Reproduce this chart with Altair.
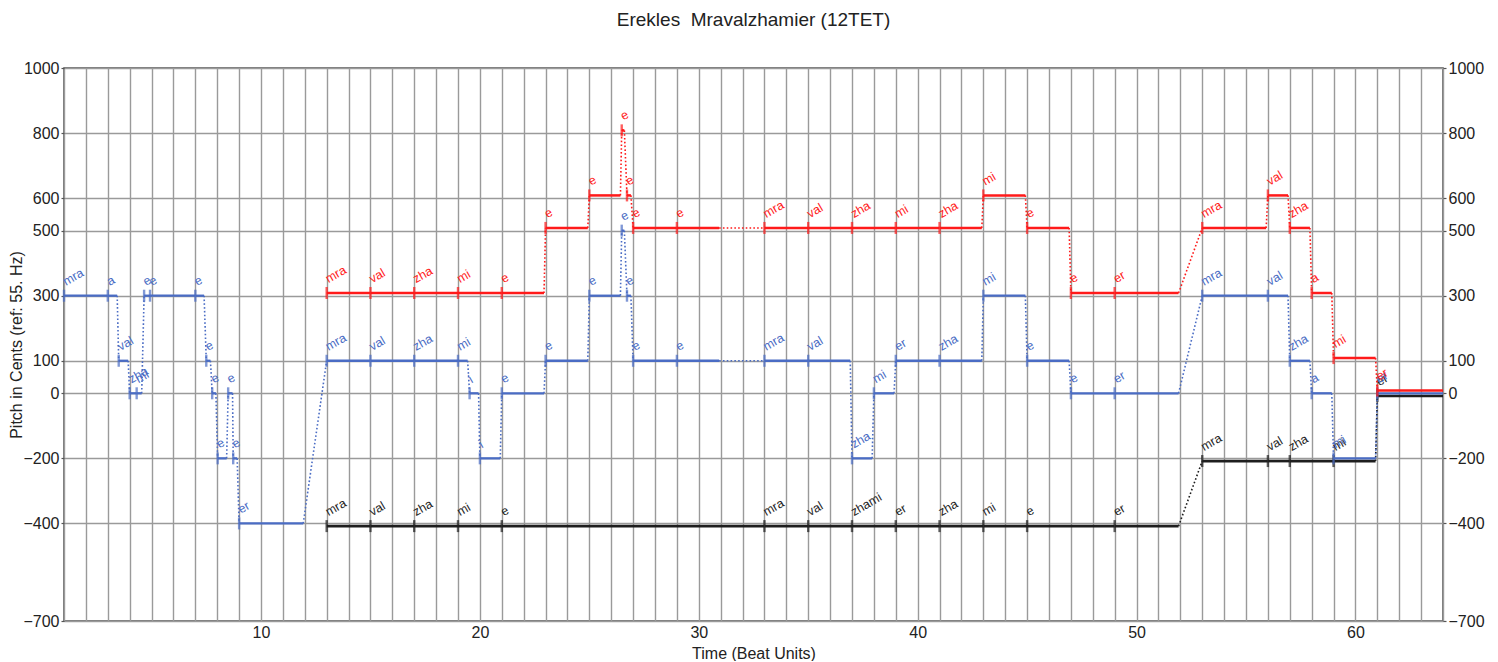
import altair as alt
import pandas as pd

# ---------------- text ----------------
TITLE = "Erekles\u00a0 Mravalzhamier (12TET)"
X_TITLE = "Time (Beat Units)"
Y_TITLE = "Pitch in Cents (ref: 55. Hz)"

# ---------------- axes ----------------
X_DOMAIN = [1, 64]
Y_DOMAIN = [-700, 1000]
X_GRID = list(range(1, 65))
Y_TICKS = [1000, 800, 600, 500, 300, 100, 0, -200, -400, -700]

# ---------------- voices ----------------
blue_start = [1, 3, 3.5, 4.0, 4.32, 4.66, 4.93, 7.0, 7.5, 7.77, 8.02, 8.5, 8.73, 9.0,
              13, 15, 17, 19, 19.53, 20.0, 21, 23, 25, 26.48, 26.72, 27, 29, 33, 35,
              37, 38, 39, 41, 43, 45, 47, 49, 53, 56, 57, 58, 59, 61]
blue_end = [3, 3.43, 3.93, 4.32, 4.55, 4.93, 7.0, 7.4, 7.69, 7.94, 8.43, 8.7, 8.91, 11.93,
            15, 17, 19, 19.44, 19.94, 20.93, 22.93, 24.93, 26.42, 26.6, 26.9, 29, 30.93,
            35, 36.92, 37.92, 38.92, 41, 42.93, 44.92, 46.92, 49, 51.92, 56, 56.92,
            57.92, 58.92, 60.92, 64]
blue_pitch = [300, 300, 100, 0, 0, 300, 300, 300, 100, 0, -200, 0, -200, -400,
              100, 100, 100, 100, 0, -200, 0, 100, 300, 500, 300, 100, 100, 100, 100,
              -200, 0, 100, 100, 300, 100, 0, 0, 300, 300, 100, 0, -200, 0]
blue_label = ["mra", "a", "val", "zha", "mi", "e", "e", "e", "e", "e", "e", "e", "e", "er",
              "mra", "val", "zha", "mi", "i", "i", "e", "e", "e", "e", "e", "e", "e",
              "mra", "val", "zha", "mi", "er", "zha", "mi", "e", "e", "er",
              "mra", "val", "zha", "a", "mi", "er"]

red_start = [13, 15, 17, 19, 21, 23, 25, 26.48, 26.72, 27, 29, 33, 35, 37, 39, 41, 43,
             45, 47, 49, 53, 56, 57, 58, 59, 61]
red_end = [15, 17, 19, 21, 22.93, 24.93, 26.42, 26.6, 26.9, 29, 30.93, 35, 37, 39, 41,
           42.93, 44.92, 46.92, 49, 51.92, 55.92, 56.92, 57.92, 58.92, 60.92, 64]
red_pitch = [300, 300, 300, 300, 300, 500, 600, 800, 600, 500, 500, 500, 500, 500, 500,
             500, 600, 500, 300, 300, 500, 600, 500, 300, 100, 0]
red_label = ["mra", "val", "zha", "mi", "e", "e", "e", "e", "e", "e", "e",
             "mra", "val", "zha", "mi", "zha", "mi", "e", "e", "er",
             "mra", "val", "zha", "a", "mi", "er"]

black_start = [13, 15, 17, 19, 21, 33, 35, 37, 39, 41, 43, 45, 49, 53, 56, 57, 59, 61]
black_end = [15, 17, 19, 21, 33, 35, 37, 39, 41, 43, 45, 49, 51.92, 56, 57, 59, 60.92, 64]
black_pitch = [-400, -400, -400, -400, -400, -400, -400, -400, -400, -400, -400, -400,
               -400, -200, -200, -200, -200, 0]
black_label = ["mra", "val", "zha", "mi", "e", "mra", "val", "zhami", "er", "zha", "mi",
               "e", "er", "mra", "val", "zha", "mi", "er"]

# ---------------- styling ----------------
FONT = "Liberation Sans"
BLUE = "#4a6cc4"
RED = "#ff1a1a"
BLACK = "#1e1e1e"
GRID = "#9a9a9a"

xs = alt.Scale(domain=X_DOMAIN, nice=False, zero=False)
ys = alt.Scale(domain=Y_DOMAIN, nice=False, zero=False)

x_axis = alt.Axis(values=X_GRID, labelExpr="datum.value % 10 === 0 ? datum.label : ''",
                  grid=True, ticks=False, domain=False, labelOverlap=False,
                  labelFlush=False, labelPadding=3, titlePadding=5)
y_left = alt.Axis(values=Y_TICKS, orient="left", grid=True, domain=False, tickSize=3,
                  labelPadding=2, labelOverlap=False, titlePadding=-1.5, format="d",
                  titleFontSize=16)
y_right = alt.Axis(values=Y_TICKS, orient="right", grid=False, domain=False, tickSize=3,
                   labelPadding=2, labelOverlap=False, title=None, format="d")


def xenc(field):
    return alt.X(field, type="quantitative", scale=xs, axis=x_axis, title=X_TITLE)


def yenc(field, axis=None):
    if axis is None:
        return alt.Y(field, type="quantitative", scale=ys, axis=None)
    return alt.Y(field, type="quantitative", scale=ys, axis=axis, title=Y_TITLE)


def voice_layers(start, end, pitch, label, color, shift, width, axis=None):
    notes = pd.DataFrame({"start": start, "end": end, "pitch": pitch, "label": label})
    links = pd.DataFrame({"x": end[:-1], "y": pitch[:-1],
                          "xn": start[1:], "yn": pitch[1:]})
    conn = alt.Chart(links).mark_rule(
        color=color, strokeWidth=1.6, strokeDash=[1.6, 2.2], yOffset=shift, y2Offset=shift
    ).encode(x=xenc("x"), x2="xn:Q", y=yenc("y"), y2="yn:Q")
    seg = alt.Chart(notes).mark_rule(
        color=color, strokeWidth=width, yOffset=shift
    ).encode(x=xenc("start"), x2="end:Q", y=yenc("pitch", axis))
    tick = alt.Chart(notes).mark_tick(
        color=color, orient="vertical", size=12, thickness=2.4, yOffset=shift
    ).encode(x=xenc("start"), y=yenc("pitch"))
    txt = alt.Chart(notes).mark_text(
        color=color, font=FONT, fontSize=12.5, angle=330, align="left",
        baseline="alphabetic", dx=6.5, dy=-7.5, yOffset=shift
    ).encode(x=xenc("start"), y=yenc("pitch"), text="label:N")
    return [conn, seg, tick, txt]


layers = []
layers += voice_layers(black_start, black_end, black_pitch, black_label, BLACK, 2.7, 2.7, y_left)
layers += voice_layers(blue_start, blue_end, blue_pitch, blue_label, BLUE, 0, 2.3)
layers += voice_layers(red_start, red_end, red_pitch, red_label, RED, -2.7, 2.5, y_right)

chart = alt.layer(*layers).properties(
    width=1379,
    height=553,
    title=alt.TitleParams(TITLE, fontSize=19, font=FONT, fontWeight="normal",
                          color="#222222", offset=30, anchor="middle"),
    autosize=alt.AutoSizeParams(type="none"),
    padding={"left": 56, "top": 60, "right": 47, "bottom": 40},
).resolve_axis(
    y="independent"
).configure_view(
    stroke="#505050", strokeWidth=1.5
).configure_axis(
    labelFont=FONT, titleFont=FONT, labelFontSize=16, titleFontSize=16,
    labelColor="#222222", titleColor="#222222", titleFontWeight="normal",
    gridColor=GRID, gridWidth=1.4, gridOpacity=1, tickColor="#555555", tickWidth=1.2
)

chart.save("out.html", embed_options={"renderer": "svg", "actions": False})
